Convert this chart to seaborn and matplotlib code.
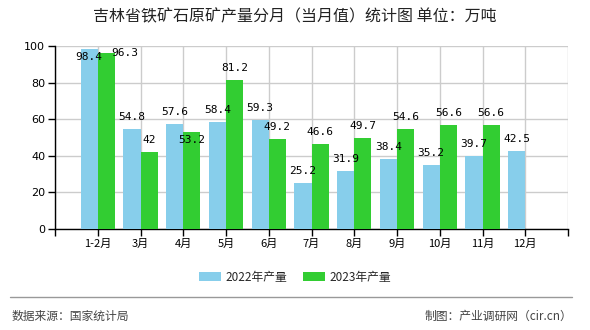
import matplotlib
matplotlib.use("Agg")
import matplotlib.pyplot as plt
from matplotlib.lines import Line2D
from matplotlib.patches import Patch
import seaborn as sns
import pandas as pd
import numpy as np

# ---- data ----
months = ["1-2月", "3月", "4月", "5月", "6月", "7月", "8月", "9月", "10月", "11月", "12月"]
series_names = ["2022年产量", "2023年产量"]
values_2022 = [98.4, 54.8, 57.6, 58.4, 59.3, 25.2, 31.9, 38.4, 35.2, 39.7, 42.5]
values_2023 = [96.3, 42, 53.2, 81.2, 49.2, 46.6, 49.7, 54.6, 56.6, 56.6, None]
yticks = [0, 20, 40, 60, 80, 100]
title = "吉林省铁矿石原矿产量分月（当月值）统计图 单位：万吨"
source_text = "数据来源：国家统计局"
credit_text = "制图：产业调研网（cir.cn）"

colors = ["#87CEEB", "#32CD32"]

rows = []
for m, v in zip(months, values_2022):
    rows.append({"month": m, "series": series_names[0], "value": v})
for m, v in zip(months, values_2023):
    if v is not None:
        rows.append({"month": m, "series": series_names[1], "value": v})
df = pd.DataFrame(rows)

sns.set_theme(style="white")
plt.rcParams["font.family"] = ["Noto Sans CJK SC", "DejaVu Sans"]

W, H = 590, 330
fig = plt.figure(figsize=(W / 100, H / 100), dpi=100)
ax = fig.add_axes([55 / W, 1 - 229 / H, (568 - 55) / W, (229 - 46) / H])

sns.barplot(data=df, x="month", y="value", hue="series", order=months,
            hue_order=series_names, palette=colors, errorbar=None,
            width=0.8, saturation=1, ax=ax, legend=False, zorder=3,
            linewidth=0, edgecolor="none")

ax.set_xlim(-1, 11)
ax.set_ylim(0, 100)
ax.set_xticks(range(-1, 12))
ax.set_xticklabels([""] + months + [""], fontsize=8, color="#000000")
ax.set_yticks(yticks)
ax.set_yticklabels([str(t) for t in yticks], fontsize=8, color="#000000",
                   family=["DejaVu Sans"])
ax.set_xlabel("")
ax.set_ylabel("")
ax.grid(True, color="#cccccc", lw=1, zorder=0)
ax.set_axisbelow(True)
for s in ["top", "right"]:
    ax.spines[s].set_visible(False)
for s in ["left", "bottom"]:
    ax.spines[s].set_color("#000000")
    ax.spines[s].set_linewidth(1)
ax.tick_params(axis="both", which="both", length=5, width=1, color="#000000",
               direction="out", bottom=True, left=True, pad=2)

# label offsets in pixels (dx, dy) for a few labels moved to avoid overlap
px = 72 / 100
label_offsets = {(0, 0): (0, -8), (1, 0): (18.5, 0), (1, 2): (0, -8)}
for si, cont in enumerate(ax.containers):
    vals = values_2022 if si == 0 else [v for v in values_2023 if v is not None]
    for bi, (bar, v) in enumerate(zip(cont, vals)):
        dx, dy = label_offsets.get((si, bi), (0, 12))
        lab = f"{v:g}"
        ax.annotate(lab, (bar.get_x() + bar.get_width() / 2, bar.get_height()),
                    xytext=(dx * px, dy * px), textcoords="offset points",
                    ha="center", va="center", fontsize=8,
                    family=["DejaVu Sans Mono"], color="#000000", zorder=5,
                    annotation_clip=False)

fig.text(0.5, 1 - 17 / H, title, ha="center", va="center", fontsize=11.5,
         color="#222222")

handles = [Patch(facecolor=c, edgecolor="none") for c in colors]
fig.legend(handles, series_names, loc="center", bbox_to_anchor=(0.5, 1 - 277 / H),
           ncol=2, frameon=False, fontsize=8.5, handlelength=1.86,
           handleheight=0.76, handletextpad=0.34, columnspacing=1.36)

fig.add_artist(Line2D([10 / W, 572 / W], [1 - 297 / H, 1 - 297 / H],
                      color="#999999", lw=1))
fig.text(12 / W, 1 - 316 / H, source_text, ha="left", va="center",
         fontsize=8.5, color="#444444")
fig.text(572 / W, 1 - 316 / H, credit_text, ha="right", va="center",
         fontsize=8.5, color="#444444")

fig.savefig("out.png", dpi=100)
